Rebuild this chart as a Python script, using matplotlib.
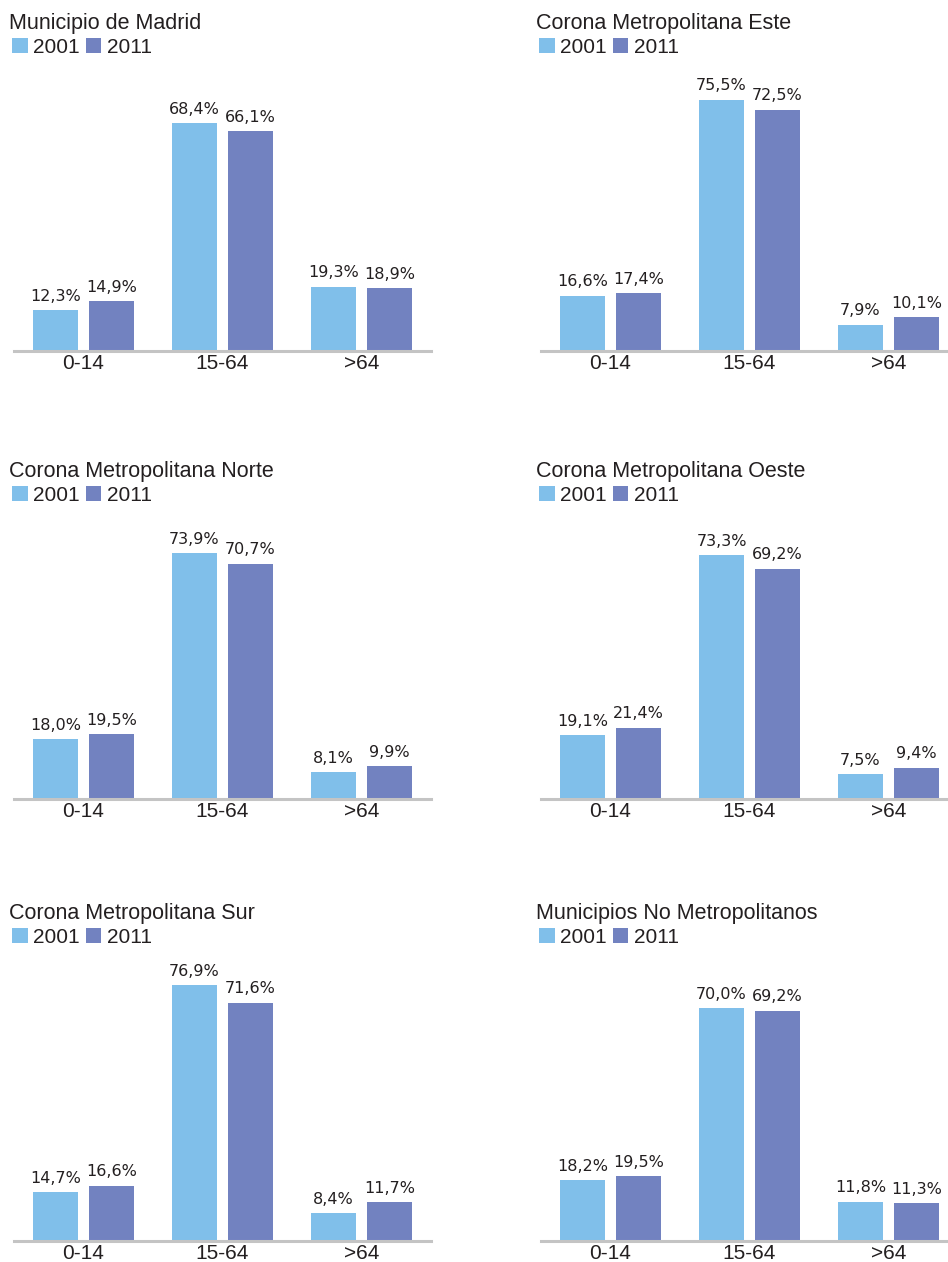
import matplotlib
matplotlib.use('Agg')
import matplotlib.pyplot as plt
import numpy as np

W, H = 948, 1262

categories = ['0-14', '15-64', '>64']
years = ['2001', '2011']

titles = ['Municipio de Madrid', 'Corona Metropolitana Este',
          'Corona Metropolitana Norte', 'Corona Metropolitana Oeste',
          'Corona Metropolitana Sur', 'Municipios No Metropolitanos']

v2001 = [[12.3, 68.4, 19.3],
         [16.6, 75.5, 7.9],
         [18.0, 73.9, 8.1],
         [19.1, 73.3, 7.5],
         [14.7, 76.9, 8.4],
         [18.2, 70.0, 11.8]]
v2011 = [[14.9, 66.1, 18.9],
         [17.4, 72.5, 10.1],
         [19.5, 70.7, 9.9],
         [21.4, 69.2, 9.4],
         [16.6, 71.6, 11.7],
         [19.5, 69.2, 11.3]]

colors = ['#80bfea', '#7282c0']
txt = '#231f20'

plt.rcParams['font.family'] = ['Liberation Sans', 'DejaVu Sans']

fig = plt.figure(figsize=(W / 100, H / 100), dpi=100)

col_off = [0, 527]
row_off = [0, 448, 890]
px_per = 3.33
ytop = 85


def fx(x):
    return x / W


def fy(y):
    return 1 - y / H


for i, title in enumerate(titles):
    ox = col_off[i % 2]
    oy = row_off[i // 2]
    base = 351 + oy
    height = ytop * px_per
    ax = fig.add_axes([fx(14 + ox), fy(base), 417 / W, height / H])
    x = np.arange(len(categories))
    b1 = ax.bar(x - 0.201, v2001[i], width=0.324, color=colors[0], label=years[0])
    b2 = ax.bar(x + 0.201, v2011[i], width=0.324, color=colors[1], label=years[1])
    # value labels (narrow-looking, so a smaller DejaVu face)
    for bars, vals in [(b1, v2001[i]), (b2, v2011[i])]:
        for r, v in zip(bars, vals):
            ax.annotate(f'{v:.1f}%'.replace('.', ','),
                        (r.get_x() + r.get_width() / 2, r.get_height()),
                        xytext=(0, 4.5), textcoords='offset points',
                        ha='center', va='bottom', fontsize=11.5,
                        family='DejaVu Sans', color=txt)
    ax.set_xlim(-0.5, 2.5)
    ax.set_ylim(0, ytop)
    ax.set_xticks(x)
    ax.set_xticklabels(categories, fontsize=15, color=txt)
    ax.tick_params(axis='x', length=0, pad=2)
    ax.set_yticks([])
    for s in ['top', 'left', 'right']:
        ax.spines[s].set_visible(False)
    ax.spines['bottom'].set_color('#c4c4c4')
    ax.spines['bottom'].set_linewidth(2.2)
    ax.patch.set_alpha(0)

    fig.text(fx(9 + ox), fy(29 + oy), title, fontsize=15.5, color=txt,
             ha='left', va='baseline')
    ax.legend(loc='lower left', bbox_to_anchor=(fx(12 + ox), fy(57 + oy)),
              bbox_transform=fig.transFigure, ncol=2, frameon=False,
              fontsize=15, handlelength=0.75, handleheight=0.75,
              handletextpad=0.25, columnspacing=0.3, borderpad=0,
              borderaxespad=0, labelcolor=txt)

fig.savefig('out.png', dpi=100)
